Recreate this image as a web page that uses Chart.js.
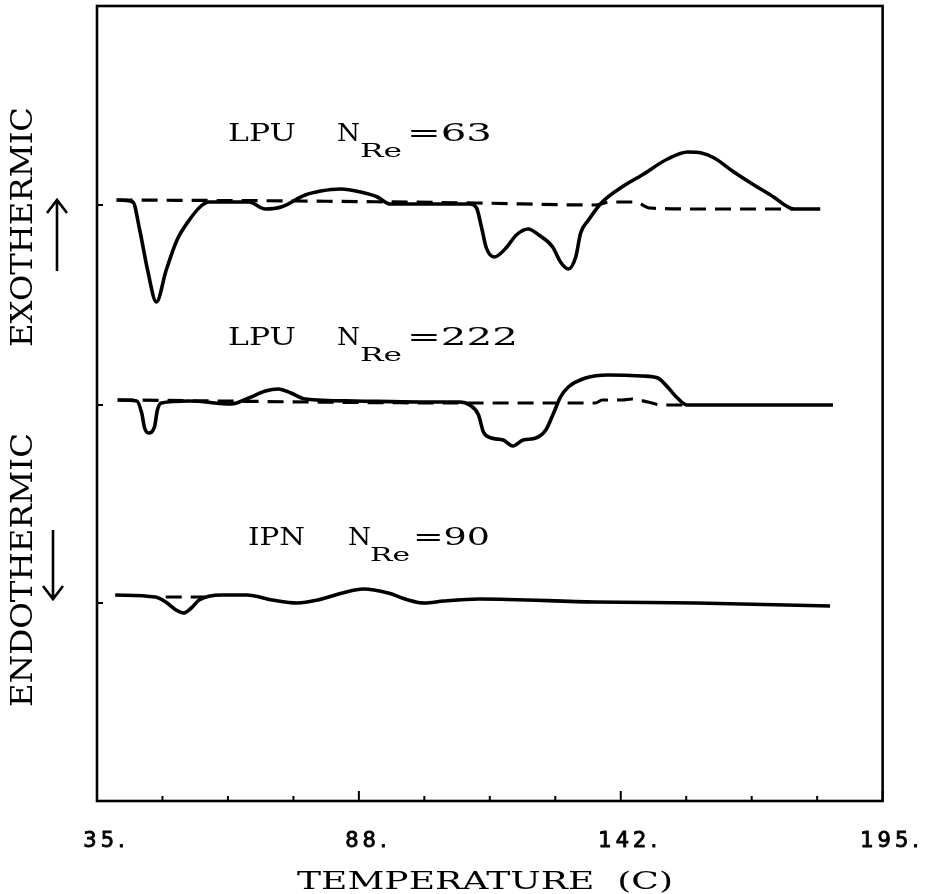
<!DOCTYPE html>
<html>
<head>
<meta charset="utf-8">
<script src="https://cdn.jsdelivr.net/npm/chart.js@4.4.0/dist/chart.umd.min.js"></script>
<style>
html, body { margin: 0; padding: 0; background: #fff; }
</style>
</head>
<body>
<canvas id="dsc" width="934" height="894"></canvas>
<script>
// DSC traces, temperature in C, heat flow in plot units (each trace sits on its own baseline)
const lpu63Temp = [39.0, 42.3, 43.7, 45.3, 47.1, 49.1, 51.3, 53.8, 56.2, 57.8, 65.9, 69.3, 72.5, 77.4, 80.6, 84.6, 88.7, 92.1, 94.7, 100.8, 110.9, 112.3, 113.3, 114.3, 115.9, 118.3, 120.4, 122.8, 125.0, 127.8, 129.4, 131.0, 132.5, 133.5, 135.1, 137.9, 141.9, 146.0, 151.2, 155.3, 158.1, 160.7, 164.7, 168.8, 172.8, 175.4, 176.9, 182.3];
const lpu63Heat = [601, 599, 571, 531, 499, 531, 561, 581, 595, 599, 599, 592, 594, 606, 610, 612, 609, 604, 597, 597, 597, 593, 574, 553, 544, 553, 566, 572, 566, 554, 539, 532, 544, 568, 581, 599, 614, 626, 642, 649, 648, 643, 629, 616, 604, 595, 592, 592];
const lpu63BaseTemp = [39.0, 76.0, 112.3, 136.5, 139.5, 144.6, 147.6, 156.7, 176.9];
const lpu63BaseHeat = [601, 600, 598, 596, 599, 599, 593, 592, 592];

const lpu222Temp = [39.2, 43.1, 44.1, 44.7, 45.5, 46.7, 47.3, 48.1, 53.8, 62.4, 65.9, 69.3, 71.9, 74.5, 77.4, 87.5, 100.8, 108.8, 110.9, 112.7, 113.7, 115.3, 117.7, 119.7, 121.8, 124.4, 126.4, 128.0, 129.4, 131.0, 134.5, 139.1, 146.0, 149.2, 151.2, 153.2, 155.1, 184.9];
const lpu222Heat = [401, 400, 388, 373, 368, 374, 391, 398, 400, 397, 403, 410, 412, 408, 402, 400, 399, 399, 396, 386, 369, 363, 361, 355, 361, 363, 371, 388, 404, 414, 423, 426, 425, 423, 414, 403, 396, 396];
const lpu222BaseTemp = [39.2, 112.3, 128.4, 136.5, 137.9, 141.9, 144.0, 147.2, 150.0, 154.7];
const lpu222BaseHeat = [401, 398, 398, 398, 401, 401, 402, 399, 396, 396];

const ipnTemp = [38.7, 46.9, 49.0, 51.1, 52.6, 54.2, 55.8, 60.4, 65.5, 70.7, 75.8, 80.0, 85.0, 89.2, 94.3, 98.4, 101.6, 105.6, 112.9, 136.5, 157.1, 184.3];
const ipnHeat = [206, 204, 199, 191, 188, 193, 201, 206, 206, 201, 198, 201, 208, 212, 208, 201, 198, 200, 202, 199, 198, 195];
const ipnBaseTemp = [49.0, 57.0];
const ipnBaseHeat = [204, 204];

const xTickLabels = ['35.', '88.', '142.', '195.'];
const yTickValues = [198, 396, 596];
const xMin = 35, xMax = 195, minorPerMajor = 4;

// minor ticks every (major step / 4)
const xTickValues = [];
for (let i = 0; i <= (xTickLabels.length - 1) * minorPerMajor; i++) {
    xTickValues.push(xMin + i * (xMax - xMin) / ((xTickLabels.length - 1) * minorPerMajor));
}

function pts(temps, heats) {
    return temps.map((t, i) => ({ x: t, y: heats[i] }));
}

function solid(temps, heats) {
    return { data: pts(temps, heats), borderColor: '#000', borderWidth: 3.6, pointRadius: 0, fill: false, cubicInterpolationMode: 'monotone' };
}
function dashed(temps, heats) {
    return Object.assign(solid(temps, heats), { borderDash: [16, 9], borderWidth: 3.2 });
}

// stretch text to a given width (the original plotter font is very wide)
function fitText(ctx, text, x, y, width, size) {
    ctx.font = size + 'px "DejaVu Serif"';
    const w = ctx.measureText(text).width;
    ctx.save();
    ctx.translate(x, y);
    ctx.scale(width / w, 1);
    ctx.textAlign = 'left';
    ctx.textBaseline = 'alphabetic';
    ctx.fillText(text, 0, 0);
    ctx.restore();
}

function arrow(ctx, x, yFrom, yTo) {
    const dir = yTo < yFrom ? 1 : -1;
    ctx.beginPath();
    ctx.moveTo(x, yFrom);
    ctx.lineTo(x, yTo);
    ctx.moveTo(x - 10, yTo + dir * 13);
    ctx.lineTo(x, yTo);
    ctx.lineTo(x + 10, yTo + dir * 13);
    ctx.stroke();
}

const decor = {
    id: 'decor',
    beforeDraw(chart) {
        chart.ctx.letterSpacing = '4px';
    },
    afterDraw(chart) {
        const { ctx, chartArea: a, scales: { x, y } } = chart;
        ctx.save();
        ctx.letterSpacing = '0px';
        ctx.strokeStyle = '#000';
        ctx.fillStyle = '#000';
        ctx.lineWidth = 2.6;
        ctx.strokeRect(a.left, a.top, a.right - a.left, a.bottom - a.top);

        // inward ticks
        ctx.lineWidth = 2;
        ctx.beginPath();
        x.ticks.forEach((t, i) => {
            const px = x.getPixelForValue(t.value);
            const len = i % minorPerMajor === 0 ? 10 : 5;
            ctx.moveTo(px, a.bottom);
            ctx.lineTo(px, a.bottom - len);
        });
        yTickValues.forEach(v => {
            const py = y.getPixelForValue(v);
            ctx.moveTo(a.left, py);
            ctx.lineTo(a.left + 6, py);
        });
        ctx.stroke();

        // axis title
        fitText(ctx, 'TEMPERATURE  (C)', 297, 889, 376, 24);

        // side labels
        ctx.save();
        ctx.translate(32, 347);
        ctx.rotate(-Math.PI / 2);
        fitText(ctx, 'EXOTHERMIC', 0, 0, 240, 29);
        ctx.restore();
        ctx.save();
        ctx.translate(32, 707);
        ctx.rotate(-Math.PI / 2);
        fitText(ctx, 'ENDOTHERMIC', 0, 0, 274, 29);
        ctx.restore();

        ctx.lineWidth = 2.6;
        arrow(ctx, 57, 271, 200);
        arrow(ctx, 53, 530, 599);

        // trace labels
        fitText(ctx, 'LPU', 228, 141, 68, 24);
        fitText(ctx, 'N', 337, 141, 23, 24);
        fitText(ctx, 'Re', 360, 157, 42, 19);
        fitText(ctx, '=63', 407, 141, 85, 24);

        fitText(ctx, 'LPU', 228, 345, 68, 24);
        fitText(ctx, 'N', 337, 345, 23, 24);
        fitText(ctx, 'Re', 360, 361, 42, 19);
        fitText(ctx, '=222', 407, 345, 111, 24);

        fitText(ctx, 'IPN', 248, 545, 57, 24);
        fitText(ctx, 'N', 348, 545, 23, 24);
        fitText(ctx, 'Re', 370, 561, 40, 19);
        fitText(ctx, '=90', 413, 545, 77, 24);
        ctx.restore();
    }
};

new Chart(document.getElementById('dsc'), {
    type: 'line',
    data: {
        datasets: [
            dashed(lpu63BaseTemp, lpu63BaseHeat),
            dashed(lpu222BaseTemp, lpu222BaseHeat),
            dashed(ipnBaseTemp, ipnBaseHeat),
            solid(lpu63Temp, lpu63Heat),
            solid(lpu222Temp, lpu222Heat),
            solid(ipnTemp, ipnHeat)
        ]
    },
    options: {
        responsive: false,
        animation: false,
        events: [],
        layout: { padding: { left: 97, right: 44, top: 6, bottom: 0 } },
        plugins: { legend: { display: false }, tooltip: { enabled: false } },
        scales: {
            x: {
                type: 'linear',
                min: xMin,
                max: xMax,
                afterBuildTicks: axis => { axis.ticks = xTickValues.map(v => ({ value: v })); },
                afterFit: axis => { axis.height = 93; },
                grid: { display: false, drawTicks: false },
                border: { display: false },
                ticks: {
                    autoSkip: false,
                    maxRotation: 0,
                    padding: 28,
                    labelOffset: 9,
                    color: '#000',
                    textStrokeColor: '#000',
                    textStrokeWidth: 0.9,
                    font: { family: 'DejaVu Sans', size: 21 },
                    callback: (value, index) => index % minorPerMajor === 0 ? xTickLabels[index / minorPerMajor] : ''
                }
            },
            y: { type: 'linear', min: 0, max: 795, display: false }
        }
    },
    plugins: [decor]
});
</script>
</body>
</html>
